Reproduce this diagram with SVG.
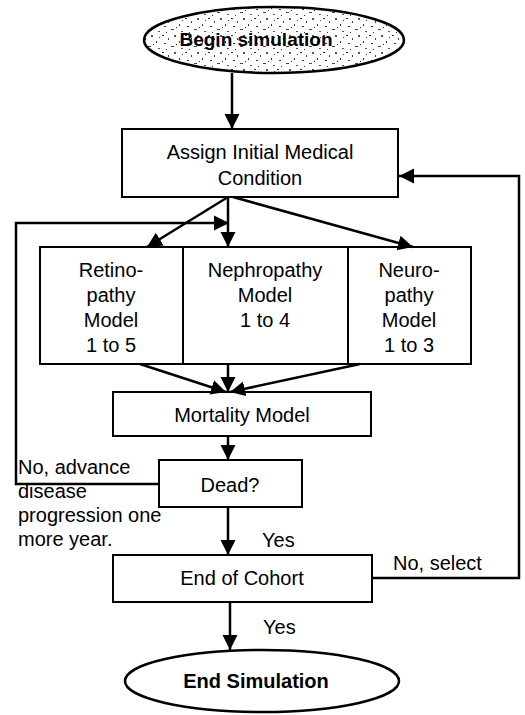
<svg xmlns="http://www.w3.org/2000/svg" width="525" height="715" viewBox="0 0 525 715">
<style>
.box{fill:#fff;stroke:#000;stroke-width:2}
.ln{fill:none;stroke:#000;stroke-width:2.5}
.t{font-family:"Liberation Sans",Arial,sans-serif;font-size:20px;fill:#000;text-anchor:middle}
.l{font-family:"Liberation Sans",Arial,sans-serif;font-size:20px;fill:#000}
.b{font-family:"Liberation Sans",Arial,sans-serif;font-size:19px;font-weight:bold;fill:#000;text-anchor:middle}
</style>
<defs>
<marker id="ah" viewBox="0 0 10 10" refX="10" refY="5" markerWidth="6" markerHeight="6.4" markerUnits="strokeWidth" orient="auto">
<path d="M0,0 L10,5 L0,10 z" fill="#000"/>
</marker>
<pattern id="speck" width="23" height="17" patternUnits="userSpaceOnUse">
<rect width="23" height="17" fill="#fff"/>
<rect x="1" y="1" width="2" height="1" fill="#333"/>
<rect x="7" y="4" width="1" height="2" fill="#444"/>
<rect x="13" y="1" width="2" height="2" fill="#555"/>
<rect x="3" y="9" width="2" height="1" fill="#333"/>
<rect x="10" y="12" width="3" height="1" fill="#444"/>
<rect x="18" y="7" width="1" height="2" fill="#333"/>
<rect x="20" y="14" width="2" height="1" fill="#555"/>
<rect x="15" y="10" width="1" height="1" fill="#222"/>
<rect x="5" y="15" width="1" height="1" fill="#333"/>
<rect x="21" y="3" width="1" height="1" fill="#444"/>
</pattern>
</defs>
<g id="begin">
<ellipse cx="274" cy="40" rx="130" ry="33" fill="url(#speck)" stroke="#000" stroke-width="2.5"/>
<text class="b" x="256" y="46">Begin simulation</text>
</g>
<g id="assign">
<rect class="box" x="122" y="129" width="276" height="68"/>
<text class="t" x="260" y="159">Assign Initial Medical</text>
<text class="t" x="260" y="185">Condition</text>
</g>
<g id="retino">
<rect class="box" x="40" y="247" width="143" height="117"/>
<text class="t" x="111" y="277">Retino-</text>
<text class="t" x="111" y="302">pathy</text>
<text class="t" x="111" y="327">Model</text>
<text class="t" x="111" y="352">1 to 5</text>
</g>
<g id="nephro">
<rect class="box" x="183" y="247" width="165" height="117"/>
<text class="t" x="265" y="277">Nephropathy</text>
<text class="t" x="265" y="302">Model</text>
<text class="t" x="265" y="327">1 to 4</text>
</g>
<g id="neuro">
<rect class="box" x="348" y="247" width="123" height="117"/>
<text class="t" x="409" y="277">Neuro-</text>
<text class="t" x="409" y="302">pathy</text>
<text class="t" x="409" y="327">Model</text>
<text class="t" x="409" y="352">1 to 3</text>
</g>
<g id="mortality">
<rect class="box" x="113" y="392" width="258" height="44"/>
<text class="t" x="242" y="422">Mortality Model</text>
</g>
<g id="dead">
<rect class="box" x="159" y="460" width="143" height="47"/>
<text class="t" x="230" y="492">Dead?</text>
</g>
<g id="cohort">
<rect class="box" x="113" y="555" width="259" height="47"/>
<text class="t" x="242" y="585">End of Cohort</text>
</g>
<g id="endsim">
<ellipse cx="262" cy="681" rx="137" ry="31" fill="#fff" stroke="#000" stroke-width="2.5"/>
<text class="b" x="256" y="688" style="font-size:20px">End Simulation</text>
</g>
<g id="connectors">
<line class="ln" x1="232" y1="73" x2="232" y2="129" marker-end="url(#ah)"/>
<line class="ln" x1="228" y1="197" x2="147" y2="247" marker-end="url(#ah)"/>
<line class="ln" x1="228" y1="197" x2="228" y2="247" marker-end="url(#ah)"/>
<line class="ln" x1="233" y1="197" x2="413" y2="247" marker-end="url(#ah)"/>
<line class="ln" x1="140" y1="364" x2="226" y2="392" marker-end="url(#ah)"/>
<line class="ln" x1="228" y1="364" x2="228" y2="392" marker-end="url(#ah)"/>
<line class="ln" x1="360" y1="364" x2="230" y2="392" marker-end="url(#ah)"/>
<line class="ln" x1="228" y1="436" x2="228" y2="460" marker-end="url(#ah)"/>
<line class="ln" x1="228" y1="507" x2="228" y2="555" marker-end="url(#ah)"/>
<line class="ln" x1="230" y1="602" x2="230" y2="650" marker-end="url(#ah)"/>
<polyline class="ln" points="159,484 16,484 16,223 229,223" marker-end="url(#ah)"/>
<polyline class="ln" points="372,578 519,578 519,176 399,176" marker-end="url(#ah)"/>
</g>
<g id="labels">
<text class="l" x="18" y="474">No, advance</text>
<text class="l" x="18" y="498">disease</text>
<text class="l" x="18" y="522">progression one</text>
<text class="l" x="18" y="546">more year.</text>
<text class="l" x="262" y="547">Yes</text>
<text class="l" x="393" y="570">No, select</text>
<text class="l" x="263" y="634">Yes</text>
</g>
</svg>
